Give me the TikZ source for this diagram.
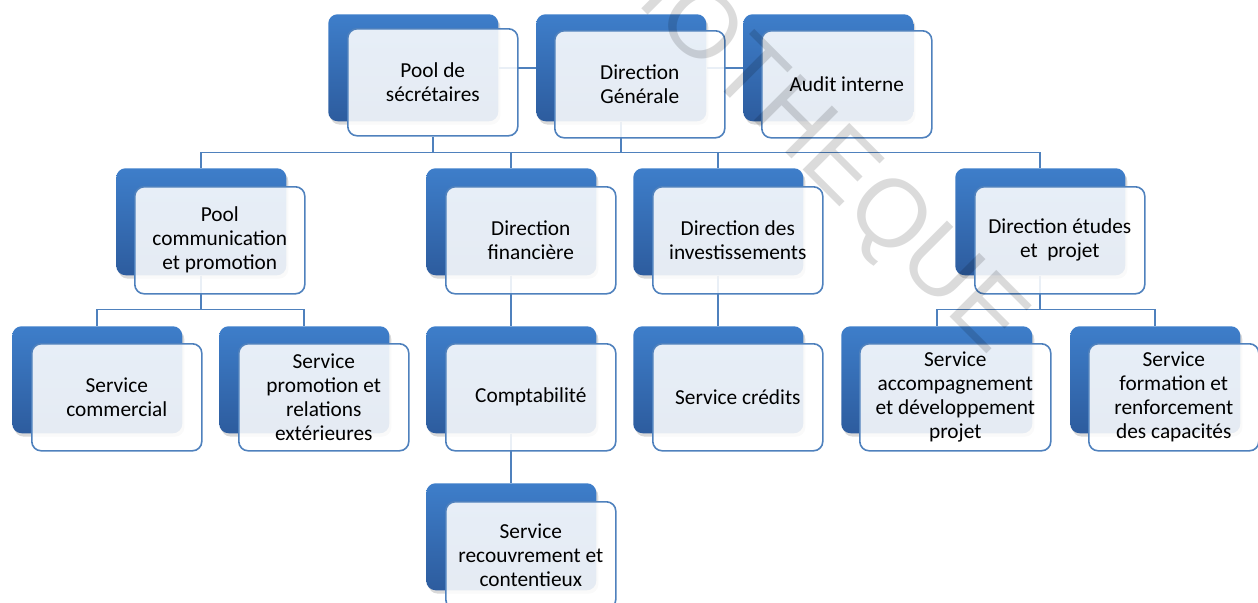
\documentclass[tikz,border=0pt]{standalone}
\usepackage{fontspec}
\setmainfont{Carlito}
\newfontfamily\stampfont{Liberation Sans}
\usetikzlibrary{shadows,backgrounds}

\definecolor{boxtop}{RGB}{62,126,202}
\definecolor{boxbot}{RGB}{45,92,158}
\definecolor{edge}{RGB}{79,129,189}

\begin{document}
\begin{tikzpicture}[x=0.75pt, y=-0.75pt,
  backbox/.style={anchor=north west, rounded corners=7pt, minimum width=127.5pt,
    minimum height=80.25pt, top color=boxtop, bottom color=boxbot, draw=none,
    drop shadow={shadow xshift=1.5pt, shadow yshift=-2.5pt, opacity=0.3}},
  frontbox/.style={anchor=north west, rounded corners=7pt, minimum width=127.5pt,
    minimum height=80.25pt, draw=edge, line width=1.2pt, fill=white,
    fill opacity=0.88, text opacity=1, align=center, inner sep=2pt,
    font=\fontsize{16}{18}\selectfont},
  link/.style={draw=edge, line width=1.4pt}]

\useasboundingbox (0,0) rectangle (1258,603);

% top row
\node[backbox] (poolB) at (328,14) {};
\node[frontbox] (pool) at (347,28) {Pool de\\sécrétaires};
\node[backbox] (dgB) at (536,14) {};
\node[frontbox] (dg) at (554,30) {Direction\\Générale};
\node[backbox] (auditB) at (743,14) {};
\node[frontbox] (audit) at (761,30) {Audit interne};

% directions
\node[backbox] (pcB) at (116,168) {};
\node[frontbox] (pc) at (134,186) {Pool\\communication\\et promotion};
\node[backbox] (dfB) at (426,168) {};
\node[frontbox] (df) at (445,186) {Direction\\financière};
\node[backbox] (diB) at (633,168) {};
\node[frontbox] (di) at (652,186) {Direction des\\investissements};
\node[backbox] (deB) at (955,168) {};
\node[frontbox] (de) at (974,186) {Direction études\\et\ \ projet};

% services
\node[backbox] (scB) at (12,326) {};
\node[frontbox] (sc) at (31,343) {Service\\commercial};
\node[backbox] (spB) at (219,326) {};
\node[frontbox] (sp) at (238,343) {Service\\promotion et\\relations\\extérieures};
\node[backbox] (cptB) at (426,326) {};
\node[frontbox] (cpt) at (445,343) {Comptabilité};
\node[backbox] (crB) at (633,326) {};
\node[frontbox] (cr) at (652,343) {Service crédits};
\node[backbox, minimum width=143.25pt] (saB) at (841,326) {};
\node[frontbox, minimum width=143.25pt] (sa) at (859,343) {Service\\accompagnement\\et développement\\projet};
\node[backbox] (sfB) at (1070,326) {};
\node[frontbox] (sf) at (1088,343) {Service\\formation et\\renforcement\\des capacités};

\node[backbox] (recB) at (426,483) {};
\node[frontbox] (rec) at (445,501) {Service\\recouvrement et\\contentieux};

% links, kept under the boxes
\begin{scope}[on background layer]
\draw[link] (poolB.east) -- (poolB.east -| dgB.west);
\draw[link] (dgB.east) -- (dgB.east -| auditB.west);

\path (dgB.south) ++(0,31) coordinate (dgbus);
\draw[link] (dgB.south) -- (dgbus) -| (pcB.north);
\draw[link] (dgbus) -| (dfB.north);
\draw[link] (dgbus) -| (diB.north);
\draw[link] (dgbus) -| (deB.north);
\draw[link] (pool.south) -- (pool.south |- dgbus);

\path (pcB.south) ++(0,34) coordinate (pcbus);
\draw[link] (pcB.south) -- (pcbus) -| (scB.north);
\draw[link] (pcbus) -| (spB.north);

\draw[link] (dfB.south) -- (cptB.north);
\draw[link] (cptB.south) -- (recB.north);
\draw[link] (diB.south) -- (crB.north);

\path (deB.south) ++(0,34) coordinate (debus);
\draw[link] (deB.south) -- (debus) -| (saB.north);
\draw[link] (debus) -| (sfB.north);
\end{scope}

% stamp across the chart
\node[rotate=-45, text=black, text opacity=0.14, font=\stampfont\fontsize{72}{72}\selectfont]
  (stamp) at (756,89) {BIBLIOTHEQUE};

\end{tikzpicture}
\end{document}
